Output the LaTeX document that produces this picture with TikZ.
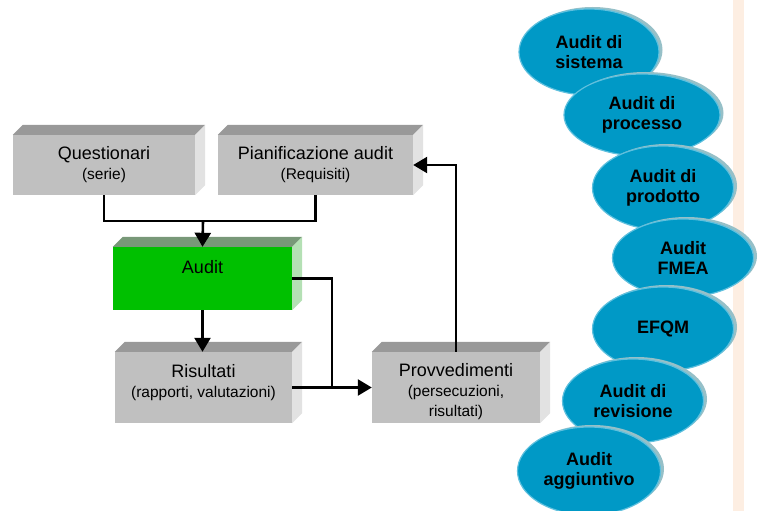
\documentclass[tikz,border=0pt]{standalone}
\usepackage{fontspec}
\setmainfont{Liberation Sans}
\usetikzlibrary{arrows.meta}
\usetikzlibrary{shapes.geometric}
\usetikzlibrary{shadows}
\usetikzlibrary{positioning}

\definecolor{boxfront}{RGB}{192,192,192}
\definecolor{boxtop}{RGB}{153,153,153}
\definecolor{boxside}{RGB}{226,226,226}
\definecolor{greenfront}{RGB}{0,192,0}
\definecolor{greentop}{RGB}{120,152,120}
\definecolor{greenside}{RGB}{180,224,180}
\definecolor{bubblefill}{RGB}{0,153,198}
\definecolor{bubbleedge}{RGB}{95,192,222}
\definecolor{bubbleshadow}{RGB}{150,192,200}
\definecolor{peach}{RGB}{253,238,226}

\newcommand{\subtxt}[1]{{\fontsize{15.5}{19}\selectfont #1}}

\begin{document}
\begin{tikzpicture}[x=1pt,y=-1pt,
  face/.style={fill=boxfront, inner sep=0pt},
  lbl/.style={align=center, inner sep=0pt, font=\fontsize{18}{20}\selectfont},
  bubble/.style={ellipse, fill=bubblefill, draw=bubbleedge, line width=1.2pt,
    inner sep=0pt, align=center, font=\bfseries\fontsize{18}{19.5}\selectfont,
    drop shadow={shadow xshift=3.5pt, shadow yshift=2pt, fill=bubbleshadow, opacity=1}},
  link/.style={line width=2.6pt},
  arr/.style={link, -{Triangle[length=14pt,width=16pt]}}]
  \useasboundingbox (0,0) rectangle (766,511);
  \fill[peach] (733,0) rectangle (744,511);

  % boxes
  \node[face, minimum width=182pt, minimum height=60pt] (quest) at (104,165) {};
  \node[face, minimum width=195pt, minimum height=60pt] (plan) at (315.5,165) {};
  \node[face, fill=greenfront, minimum width=179pt, minimum height=63pt] (audit) at (202.5,278.5) {};
  \node[face, minimum width=177pt, minimum height=71pt] (ris) at (203.5,387.5) {};
  \node[face, minimum width=168pt, minimum height=71pt] (provv) at (456,387.5) {};
  \foreach \b/\tp/\sd in {quest/boxtop/boxside, plan/boxtop/boxside, audit/greentop/greenside,
      ris/boxtop/boxside, provv/boxtop/boxside} {
    \fill[\tp] (\b.north west) -- ++(10,-10) -- ([shift={(10,-10)}]\b.north east) -- (\b.north east) -- cycle;
    \fill[\sd] (\b.north east) -- ++(10,-10) -- ([shift={(10,-10)}]\b.south east) -- (\b.south east) -- cycle;
  }
  \node[lbl, below=11pt of quest.north] (questtxt) {Questionari\\\subtxt{(serie)}};
  \node[lbl, below=11pt of plan.north] (plantxt) {Pianificazione audit\\\subtxt{(Requisiti)}};
  \node[lbl, below=13pt of audit.north] (audittxt) {Audit};
  \node[lbl, below=12pt of ris.north] (ristxt) {Risultati\\\subtxt{(rapporti, valutazioni)}};
  \node[lbl, below=11pt of provv.north] (provvtxt) {Provvedimenti\\\subtxt{(persecuzioni,}\\\subtxt{risultati)}};

  % connectors
  \coordinate (join) at (203,221);
  \coordinate (bend) at (332,387.5);
  \draw[link] (quest.south) |- (join) -| (plan.south);
  \draw[arr] (join) -- (audit.north);
  \draw[arr] (audit.south) -- (audit.south |- ris.north);
  \draw[link] (audit.east) -| (bend);
  \draw[arr] (ris.east) -- (provv.west);
  \draw[arr] (provv.north) |- (plan.east);

  % audit types
  \node[bubble, minimum width=140pt, minimum height=86pt] (sys) at (589,52) {Audit di\\sistema};
  \node[bubble, minimum width=156pt, minimum height=82pt] (proc) at (642,115) {Audit di\\processo};
  \node[bubble, minimum width=141pt, minimum height=84pt] (prod) at (663,188) {Audit di\\prodotto};
  \node[bubble, minimum width=141pt, minimum height=78pt] (fmea) at (683,258) {Audit\\FMEA};
  \node[bubble, minimum width=141pt, minimum height=84pt] (efqm) at (663,329) {EFQM};
  \node[bubble, minimum width=141pt, minimum height=84pt] (rev) at (633,401) {Audit di\\revisione};
  \node[bubble, minimum width=143pt, minimum height=88pt] (agg) at (589,471) {Audit\\aggiuntivo};
\end{tikzpicture}
\end{document}
